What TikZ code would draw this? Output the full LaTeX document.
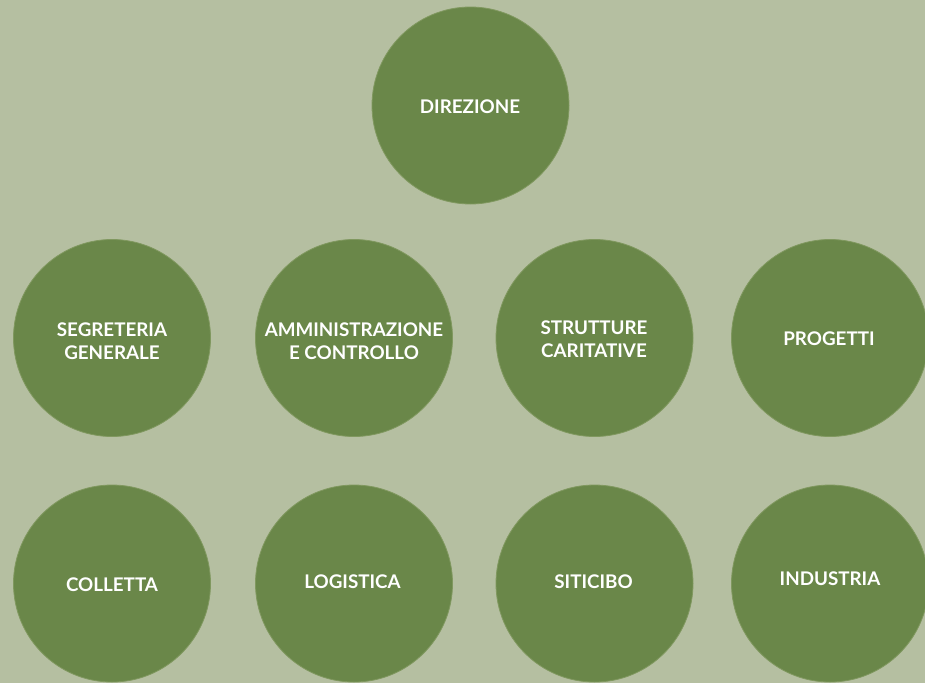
\documentclass[tikz,border=0pt]{standalone}
\usepackage{fontspec}
\setmainfont{Lato}
\definecolor{bgc}{HTML}{B5BFA1}
\definecolor{circ}{HTML}{6A8749}
\definecolor{circedge}{HTML}{80985F}
\begin{document}
\begin{tikzpicture}[x=1pt,y=-1pt,
  unit/.style={circle,fill=circ,draw=circedge,line width=0.8pt,minimum size=197pt,inner sep=0pt},
  lbl/.style={text=white,font=\fontsize{18.8}{23.5}\selectfont\bfseries,align=center}]
\fill[bgc] (0,0) rectangle (925,683);
\useasboundingbox (0,0) rectangle (925,683);
\node[unit] (dir) at (470.5,105.5) {};
\node[unit] (seg) at (112,338) {};
\node[unit] (amm) at (354,338) {};
\node[unit] (str) at (594.5,338) {};
\node[unit] (pro) at (830,338) {};
\node[unit] (col) at (112,583.5) {};
\node[unit] (log) at (354,583.5) {};
\node[unit] (sit) at (594.5,583.5) {};
\node[unit] (ind) at (830,583.5) {};
\node[lbl] (tdir) at (470,107) {DIREZIONE};
\node[lbl] (tseg) at (112,341) {SEGRETERIA\\GENERALE};
\node[lbl] (tamm) at (354,341) {AMMINISTRAZIONE\\E CONTROLLO};
\node[lbl] (tstr) at (594,339) {STRUTTURE\\CARITATIVE};
\node[lbl] (tpro) at (829,339) {PROGETTI};
\node[lbl] (tcol) at (112,585) {COLLETTA};
\node[lbl] (tlog) at (352.5,582) {LOGISTICA};
\node[lbl] (tsit) at (593.5,582) {SITICIBO};
\node[lbl] (tind) at (830,579) {INDUSTRIA};
\end{tikzpicture}
\end{document}
